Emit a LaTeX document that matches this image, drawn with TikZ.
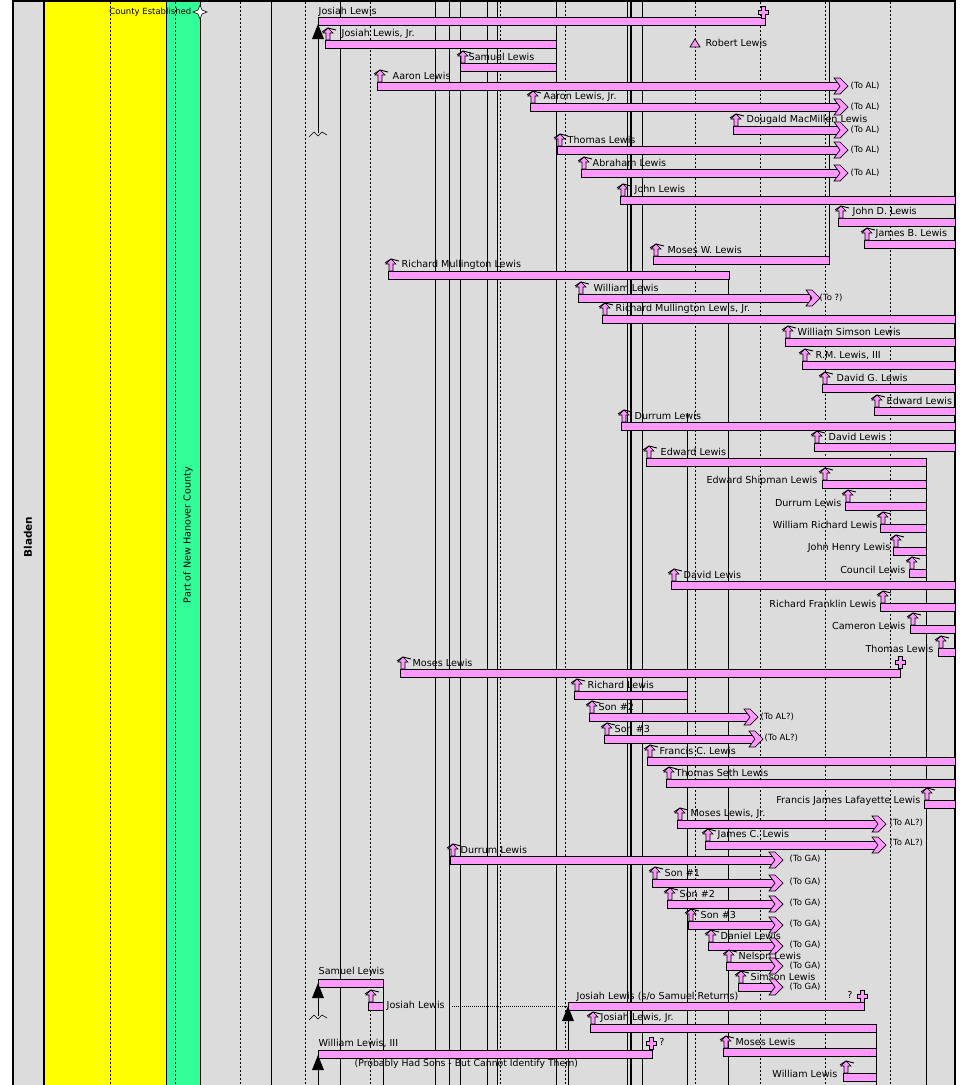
\documentclass[tikz,border=0pt]{standalone}
\usepackage{fontspec}
\setmainfont{DejaVu Sans}
\begin{document}
\begin{tikzpicture}[x=1pt,y=-1pt,
  barst/.style={draw=black,fill=pinkc,line width=0.9pt},
  lbl/.style={inner sep=0.5pt,font=\fontsize{9.6}{10}\selectfont},
  vsol/.style={black,line width=0.8pt},
  vdash/.style={black,line width=0.8pt,dash pattern=on 2pt off 2pt}]
\definecolor{pinkc}{HTML}{FF99FF}
\definecolor{bg}{HTML}{DCDCDC}
\definecolor{yel}{HTML}{FFFF00}
\definecolor{grn}{HTML}{33FF99}
\newcommand\brr[3]{\draw[barst] (#1,#3-4) rectangle (#2,#3+4);}
\newcommand\icn[2]{\draw[fill=pinkc,line width=0.6pt] (#1-2,#2-4)--(#1-2,#2-11)--(#1-5,#2-11)--(#1,#2-16)--(#1+5,#2-11)--(#1+2,#2-11)--(#1+2,#2-4)--cycle; \draw[line width=0.9pt] (#1-6,#2-12)--(#1,#2-16)--(#1+8,#2-14);}
\newcommand\chv[2]{\draw[fill=pinkc,line width=0.7pt] (#1,#2-8)--(#1+6,#2-8)--(#1+14,#2)--(#1+6,#2+8)--(#1,#2+8)--(#1+6,#2)--cycle;}
\newcommand\crs[2]{\draw[fill=pinkc,line width=0.7pt] (#1-2,#2-6)--(#1+2,#2-6)--(#1+2,#2-2)--(#1+5,#2-2)--(#1+5,#2+2)--(#1+2,#2+2)--(#1+2,#2+6)--(#1-2,#2+6)--(#1-2,#2+2)--(#1-5,#2+2)--(#1-5,#2-2)--(#1-2,#2-2)--cycle;}
\newcommand\tri[2]{\fill[black] (#1,#2-9)--(#1+6,#2+6)--(#1-6,#2+6)--cycle;}
\newcommand\pr[5]{\brr{#1}{#2}{#3}\icn{#1+3}{#3}\node[lbl,anchor=west] at (#4,#3-10) {#5};}
\newcommand\pl[5]{\brr{#1}{#2}{#3}\icn{#1+3}{#3}\node[lbl,anchor=east] at (#4,#3-3) {#5};}
\newcommand\tol[3]{\node[lbl,anchor=west,font=\fontsize{8.5}{9}\selectfont] at (#1,#2) {#3};}
\useasboundingbox (0,0) rectangle (975,1085);
\fill[white] (0,0) rectangle (975,1085);
\fill[bg] (13,0) rectangle (955,1085);
\fill[yel] (44,0) rectangle (166,1085);
\fill[grn] (166,0) rectangle (200,1085);
\foreach \x in {166,200,271,340,435,449,460,487,497,556,627,642}{\draw[vsol] (\x,2)--(\x,1085);}
\draw[black,line width=2pt] (631,2)--(631,1085);
\foreach \x in {110,175,240,305,370,500,565,695,760,825,890}{\draw[vdash] (\x,2)--(\x,1085);}
\draw[vsol] (829,2)--(829,260);
\draw[vsol] (728,275)--(728,1085);
\draw[vsol] (687,413)--(687,1085);
\draw[vsol] (926,462)--(926,1085);
\draw[vsol] (876,1028)--(876,1085);
\draw[vsol] (383,983)--(383,1085);
\draw[black,line width=2.5pt] (44,0)--(44,1085);
\draw[black,line width=2.5pt] (13,0)--(13,1085);
\draw[black,line width=2.5pt] (955,0)--(955,1085);
\draw[black,line width=2pt] (13,1)--(955,1);
\node[rotate=90,font=\bfseries\fontsize{10.5}{12}\selectfont] (bladen) at (28,537) {Bladen};
\node[rotate=90,lbl] (nh) at (188,535) {Part of New Hanover County};
\node[lbl,anchor=east,font=\fontsize{8.5}{9}\selectfont] (ce) at (192,12) {County Established};
\draw[fill=white,line width=0.6pt] (200,5)--(202,10)--(207,12)--(202,14)--(200,19)--(198,14)--(193,12)--(198,10)--cycle;
\draw[vsol] (318,30)--(318,133);
\draw[line width=0.6pt] (309,137)--(314,132)--(318,136)--(322,132)--(327,135);
\brr{318}{765}{21}\crs{763}{12}
\node[lbl,anchor=west] at (318,12) {Josiah Lewis};
\tri{318}{33}
\pr{325}{556}{44}{341}{Josiah Lewis, Jr.}
\draw[fill=pinkc,line width=0.7pt] (690,47)--(695,39)--(700,47)--cycle;
\node[lbl,anchor=west] at (705,43) {Robert Lewis};
\pr{460}{556}{67}{468}{Samuel Lewis}
\pr{377}{840}{86}{392}{Aaron Lewis}\chv{834}{86}\tol{850}{86}{(To AL)}
\pr{530}{840}{107}{543}{Aaron Lewis, Jr.}\chv{834}{107}\tol{850}{107}{(To AL)}
\pr{733}{840}{130}{746}{Dougald MacMillen Lewis}\chv{834}{130}\tol{850}{130}{(To AL)}
\pr{557}{840}{150}{567}{Thomas Lewis}\chv{834}{150}\tol{850}{150}{(To AL)}
\pr{581}{840}{173}{592}{Abraham Lewis}\chv{834}{173}\tol{850}{173}{(To AL)}
\pr{620}{955}{200}{634}{John Lewis}
\pr{838}{955}{222}{852}{John D. Lewis}
\pr{864}{955}{244}{875}{James B. Lewis}
\pr{653}{829}{260}{667}{Moses W. Lewis}
\pr{388}{729}{275}{401}{Richard Mullington Lewis}
\pr{578}{810}{298}{593}{William Lewis}\chv{806}{298}\tol{819}{298}{(To ?)}
\pr{602}{955}{319}{615}{Richard Mullington Lewis, Jr.}
\pr{785}{955}{342}{797}{William Simson Lewis}
\pr{802}{955}{365}{815}{R.M. Lewis, III}
\pr{822}{955}{388}{836}{David G. Lewis}
\pr{874}{955}{411}{886}{Edward Lewis}
\pr{621}{955}{426}{634}{Durrum Lewis}
\pr{814}{955}{447}{828}{David Lewis}
\pr{646}{926}{462}{660}{Edward Lewis}
\pl{822}{926}{484}{818}{Edward Shipman Lewis}
\pl{845}{926}{506}{842}{Durrum Lewis}
\pl{880}{926}{528}{878}{William Richard Lewis}
\pl{893}{926}{551}{891}{John Henry Lewis}
\pl{909}{926}{573}{906}{Council Lewis}
\pr{671}{955}{585}{683}{David Lewis}
\pl{880}{955}{607}{877}{Richard Franklin Lewis}
\pl{910}{955}{629}{906}{Cameron Lewis}
\pl{938}{955}{652}{934}{Thomas Lewis}
\pr{400}{900}{673}{412}{Moses Lewis}\crs{900}{662}
\pr{574}{687}{695}{587}{Richard Lewis}
\pr{589}{750}{717}{598}{Son \#2}\chv{744}{717}\tol{760}{717}{(To AL?)}
\pr{604}{755}{739}{614}{Son \#3}\chv{749}{739}\tol{764}{738}{(To AL?)}
\pr{647}{955}{761}{659}{Francis C. Lewis}
\pr{666}{955}{783}{675}{Thomas Seth Lewis}
\pl{924}{955}{804}{921}{Francis James Lafayette Lewis}
\pr{677}{878}{824}{690}{Moses Lewis, Jr.}\chv{872}{824}\tol{889}{823}{(To AL?)}
\pr{705}{878}{845}{717}{James C. Lewis}\chv{872}{845}\tol{889}{843}{(To AL?)}
\pr{450}{775}{860}{460}{Durrum Lewis}\chv{769}{860}\tol{789}{859}{(To GA)}
\pr{652}{775}{883}{664}{Son \#1}\chv{769}{883}\tol{789}{882}{(To GA)}
\pr{667}{775}{904}{679}{Son \#2}\chv{769}{904}\tol{789}{903}{(To GA)}
\pr{688}{775}{925}{700}{Son \#3}\chv{769}{925}\tol{789}{924}{(To GA)}
\pr{708}{775}{946}{720}{Daniel Lewis}\chv{769}{946}\tol{789}{945}{(To GA)}
\pr{726}{775}{966}{738}{Nelson Lewis}\chv{769}{966}\tol{789}{966}{(To GA)}
\pr{738}{775}{987}{750}{Simson Lewis}\chv{769}{987}\tol{789}{987}{(To GA)}
\brr{318}{383}{983}\node[lbl,anchor=west] at (318,971) {Samuel Lewis};
\draw[vsol] (318,995)--(318,1016);
\draw[line width=0.6pt] (309,1020)--(314,1015)--(318,1019)--(322,1015)--(327,1018);
\tri{318}{992}
\brr{368}{383}{1006}\icn{371}{1006}\node[lbl,anchor=west] at (386,1006) {Josiah Lewis};
\draw[black,line width=0.6pt,dash pattern=on 1pt off 1pt] (452,1006)--(568,1006);
\brr{568}{864}{1006}\crs{862}{996}
\node[lbl,anchor=west] at (576,997) {Josiah Lewis (s/o Samuel Returns)};
\node[lbl] at (850,995) {?};
\draw[vsol] (568,1016)--(568,1085);
\tri{568}{1015}
\pr{590}{876}{1028}{600}{Josiah Lewis, Jr.}
\brr{318}{652}{1054}\crs{651}{1043}
\node[lbl,anchor=west] at (318,1043) {William Lewis, III};
\node[lbl] at (662,1042) {?};
\draw[vsol] (318,1066)--(318,1085);
\tri{318}{1064}
\node[lbl,anchor=west,font=\fontsize{9.3}{10}\selectfont] at (354,1064) {(Probably Had Sons - But Cannot Identify Them)};
\pr{723}{876}{1052}{735}{Moses Lewis}
\pl{843}{876}{1077}{838}{William Lewis}
\end{tikzpicture}
\end{document}
